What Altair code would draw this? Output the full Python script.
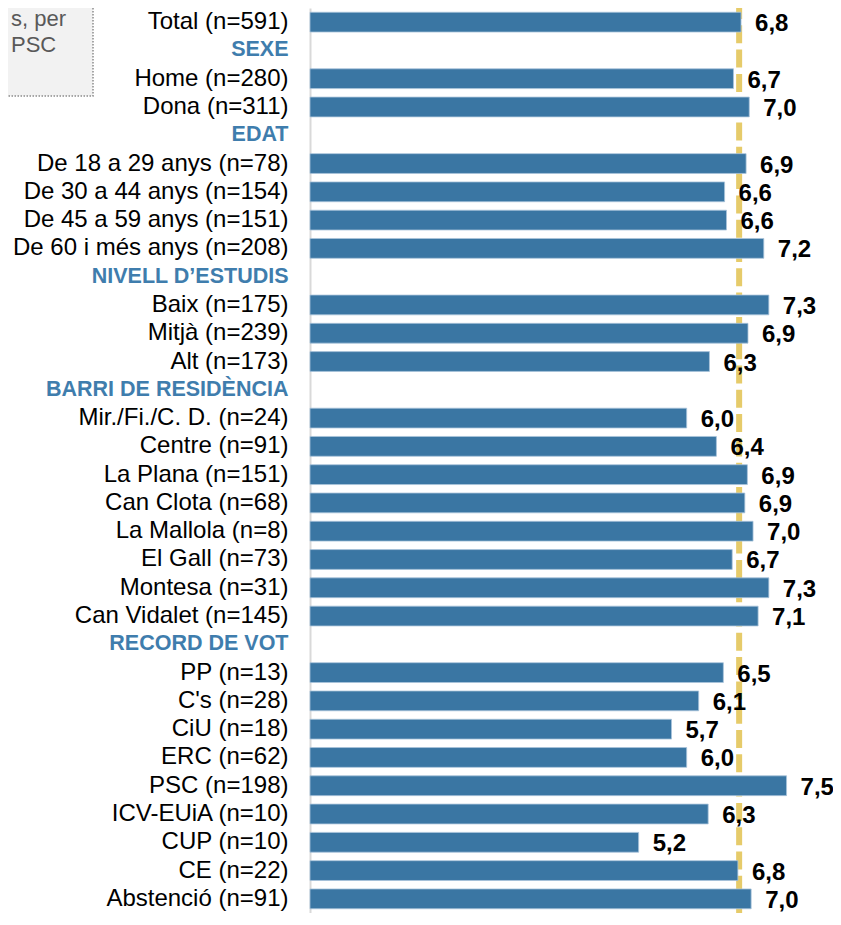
import altair as alt

categories = [
    "Total (n=591)", "SEXE", "Home (n=280)", "Dona (n=311)", "EDAT",
    "De 18 a 29 anys (n=78)", "De 30 a 44 anys (n=154)", "De 45 a 59 anys (n=151)",
    "De 60 i més anys (n=208)", "NIVELL D’ESTUDIS", "Baix (n=175)", "Mitjà (n=239)",
    "Alt (n=173)", "BARRI DE RESIDÈNCIA", "Mir./Fi./C. D. (n=24)", "Centre (n=91)",
    "La Plana (n=151)", "Can Clota (n=68)", "La Mallola (n=8)", "El Gall (n=73)",
    "Montesa (n=31)", "Can Vidalet (n=145)", "RECORD DE VOT", "PP (n=13)",
    "C's  (n=28)", "CiU (n=18)", "ERC (n=62)", "PSC (n=198)", "ICV-EUiA (n=10)",
    "CUP (n=10)", "CE (n=22)", "Abstenció (n=91)",
]
values = [
    6.82, None, 6.70, 6.95, None,
    6.90, 6.56, 6.59,
    7.18, None, 7.26, 6.93,
    6.32, None, 5.96, 6.43,
    6.92, 6.88, 7.01, 6.68,
    7.26, 7.09, None, 6.54,
    6.15, 5.72, 5.96, 7.54, 6.30,
    5.20, 6.77, 6.98,
]
labels = [
    "6,8", "", "6,7", "7,0", "",
    "6,9", "6,6", "6,6",
    "7,2", "", "7,3", "6,9",
    "6,3", "", "6,0", "6,4",
    "6,9", "6,9", "7,0", "6,7",
    "7,3", "7,1", "", "6,5",
    "6,1", "5,7", "6,0", "7,5", "6,3",
    "5,2", "6,8", "7,0",
]
mean_total = 6.79
note_lines = ["s, per", "PSC"]

FONT = "Liberation Sans, Arial, sans-serif"
BAR = "#3A76A3"
HEAD = "#3F7DAD"

rows = [{"cat": c, "value": v, "label": l} for c, v, l in zip(categories, values, labels)]
data = alt.Data(values=rows)

is_header = "datum.value == upper(datum.value)"
XDOM = [0, 8.275]

y_enc = alt.Y(
    "cat:N",
    sort=categories,
    scale=alt.Scale(domain=categories, paddingInner=0.3),
    axis=alt.Axis(
        title=None,
        ticks=False,
        domainColor="#D9D9D9",
        domainWidth=2,
        labelPadding=22,
        labelLimit=500,
        labelFont=FONT,
        labelFontSize={"condition": {"test": is_header, "value": 21.5}, "value": 24},
        labelFontWeight={"condition": {"test": is_header, "value": "bold"}, "value": "normal"},
        labelColor={"condition": {"test": is_header, "value": HEAD}, "value": "#000000"},
    ),
)
x_enc = alt.X("value:Q", scale=alt.Scale(domain=XDOM, nice=False, zero=True), axis=None)

rule = alt.Chart(alt.Data(values=[{"m": mean_total}])).mark_rule(
    color="#E6CB6A", strokeWidth=6, strokeDash=[18, 6.3], strokeDashOffset=7
).encode(x=alt.X("m:Q", scale=alt.Scale(domain=XDOM, nice=False, zero=True), axis=None))

bars = alt.Chart(data).mark_bar(color=BAR, stroke="#A9C4DA", strokeWidth=0.8).encode(
    x=x_enc, y=y_enc
).transform_filter("datum.value != null")

texts = alt.Chart(data).mark_text(
    align="left", baseline="middle", dx=14, dy=2, font=FONT, fontSize=24,
    fontWeight="bold", color="#000000"
).encode(x=x_enc, y=y_enc, text="label:N").transform_filter("datum.value != null")

box = alt.Chart(alt.Data(values=[{"a": 1}])).mark_rect(
    fill="#F2F2F2", stroke="#8C8C8C", strokeDash=[1.5, 1.5], strokeWidth=1.5
).encode(x=alt.value(-330), x2=alt.value(-217), y=alt.value(-10), y2=alt.value(88))

note1 = alt.Chart(alt.Data(values=[{"t": note_lines[0]}])).mark_text(
    align="left", baseline="alphabetic", font=FONT, fontSize=22, color="#595959"
).encode(x=alt.value(-299), y=alt.value(18), text="t:N")
note2 = alt.Chart(alt.Data(values=[{"t": note_lines[1]}])).mark_text(
    align="left", baseline="alphabetic", font=FONT, fontSize=22, color="#595959"
).encode(x=alt.value(-299), y=alt.value(44), text="t:N")

chart = alt.layer(rule, bars, texts, box, note1, note2).properties(
    width=523,
    height=905,
    autosize=alt.AutoSizeParams(type="none"),
    padding={"left": 302, "top": 0, "right": 0, "bottom": 0},
).configure_view(stroke=None)

chart.save("out.html", embed_options={"renderer": "svg", "actions": False})
